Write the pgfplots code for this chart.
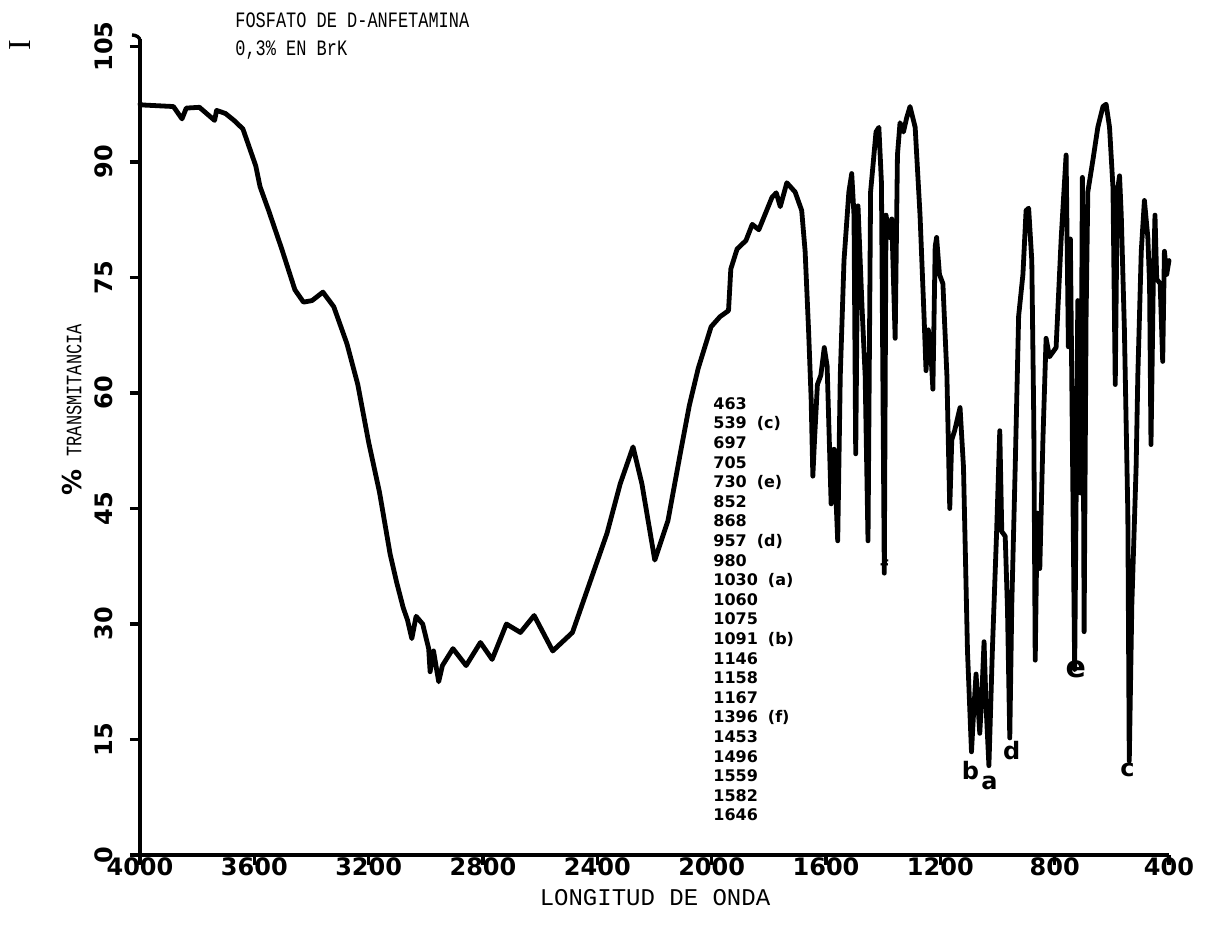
\documentclass[border=0pt]{standalone}
\usepackage{fontspec}
\usepackage{pgfplots}
\usepackage{pgfplotstable}
\pgfplotsset{compat=1.18}
\newfontfamily\mono{Liberation Mono}
\newfontfamily\monon{Liberation Mono}[FakeStretch=0.77]
\newfontfamily\tkfont{DejaVu Sans}
\newfontfamily\serifI{Liberation Serif}

% IR spectrum (wavenumber, %T)
\pgfplotstableread{
w T
4000 97.5
3989 97.4
3883 97.2
3853 95.6
3838 97.0
3792 97.1
3739 95.4
3732 96.7
3701 96.3
3671 95.4
3640 94.3
3625 92.7
3595 89.5
3580 86.8
3549 83.6
3504 78.7
3458 73.4
3428 71.8
3398 72.0
3360 73.1
3322 71.2
3276 66.4
3238 61.1
3200 53.6
3162 47.1
3125 39.1
3102 35.4
3079 32.1
3064 30.5
3049 28.1
3034 31.0
3011 30.0
2990 26.8
2985 23.8
2973 26.5
2955 22.5
2942 24.6
2905 26.8
2859 24.6
2809 27.6
2768 25.4
2718 30.0
2669 28.9
2621 31.1
2556 26.5
2487 28.9
2442 33.7
2366 41.8
2320 48.2
2275 53.0
2244 48.2
2199 38.3
2153 43.4
2108 52.5
2078 58.4
2047 63.2
2002 68.6
1971 69.9
1941 70.7
1933 76.1
1911 78.7
1880 79.8
1858 81.9
1835 81.2
1789 85.4
1774 86.0
1760 84.2
1737 87.3
1708 86.1
1685 83.7
1673 78.4
1661 68.2
1652 59.3
1646 49.2
1640 54.0
1630 61.1
1618 62.3
1606 65.9
1596 63.5
1582 45.6
1572 52.7
1559 40.8
1550 62.3
1537 77.2
1520 86.1
1510 88.5
1502 83.1
1496 52.1
1488 84.3
1474 71.2
1463 62.3
1453 40.8
1444 86.1
1425 93.9
1415 94.5
1406 87.3
1396 36.6
1390 83.1
1378 80.2
1370 82.6
1358 67.1
1350 90.9
1341 95.1
1329 93.9
1318 95.7
1306 97.2
1288 94.5
1271 83.1
1257 70.0
1250 62.9
1242 68.2
1234 65.9
1226 60.5
1218 79.0
1213 80.2
1203 75.4
1191 74.2
1177 62.3
1167 45.0
1160 53.9
1150 55.1
1131 58.1
1119 50.4
1105 26.5
1091 13.4
1084 18.2
1075 23.5
1062 15.8
1055 20.6
1047 27.7
1040 19.4
1030 11.6
1018 26.5
1003 42.0
992 55.1
985 42.0
973 41.4
965 31.9
957 15.2
950 32.5
938 50.4
926 70.0
911 75.4
900 83.7
891 84.0
880 77.2
873 56.3
868 25.3
861 44.4
852 37.2
841 54.0
830 67.1
818 64.7
795 65.9
777 80.2
760 90.9
752 66.0
745 80.0
730 24.1
719 72.0
709 47.0
703 88.0
697 29.0
690 70.0
684 86.1
666 90.3
649 94.5
631 97.2
620 97.5
608 94.5
596 86.7
588 61.1
581 86.1
573 88.2
567 83.1
556 68.2
544 44.4
539 12.2
530 32.5
515 50.4
509 62.3
497 78.4
486 85.0
474 80.2
468 74.2
463 53.3
455 74.2
449 83.1
443 74.8
431 74.2
422 64.1
416 78.4
408 75.4
400 77.2
}\spectrum

\begin{document}
\begin{tikzpicture}
\begin{axis}[
  at={(0pt,0pt)}, anchor=south west,
  scale only axis, width=514.5pt, height=408.1pt,
  x dir=reverse, xmin=400, xmax=4000, ymin=0, ymax=106,
  axis x line=bottom, axis y line=left,
  axis line style={-, line width=1.7pt},
  xtick={400,800,...,4000}, ytick={0,15,...,105},
  tick align=outside, major tick length=5pt,
  tick style={line width=1.7pt, black},
  /pgf/number format/assume math mode=true,
  /pgf/number format/1000 sep={},
  ticklabel style={font=\tkfont\bfseries\fontsize{12}{12}\selectfont},
  xticklabel style={yshift=5pt, inner sep=1pt},
  yticklabel style={xshift=-5pt, rotate=90, anchor=south},
  clip=false,
]
\addplot[line width=2.4pt, line join=round, line cap=round] table[x=w, y=T] {\spectrum};

% band letters
\node[font=\tkfont\bfseries\fontsize{12}{12}\selectfont] at (axis cs:1095,11) {b};
\node[font=\tkfont\bfseries\fontsize{12}{12}\selectfont] at (axis cs:1028,9.3) {a};
\node[font=\tkfont\bfseries\fontsize{12}{12}\selectfont] at (axis cs:950,13.6) {d};
\node[font=\tkfont\bfseries\fontsize{12}{12}\selectfont] at (axis cs:545,11) {c};
\node[font=\tkfont\bfseries\fontsize{15}{15}\selectfont] at (axis cs:726,24.1) {e};
\node[font=\tkfont\bfseries\fontsize{9}{9}\selectfont] at (axis cs:1396,37.5) {f};
\end{axis}

% axis top hook
\draw[line width=1.7pt] (0pt,407pt) to[out=90,in=0] (-4pt,410pt);

\node[font=\monon\fontsize{11}{14}\selectfont, anchor=west, align=left, inner sep=0pt]
  at (47.5pt,409.5pt) {FOSFATO DE D-ANFETAMINA\\0,3\% EN BrK};
\node[font=\serifI\fontsize{16}{16}\selectfont, rotate=90] at (-60pt,405pt) {I};

\node[rotate=90, font=\monon\fontsize{11}{11}\selectfont] at (-34pt,222.5pt)
  {{\tkfont\bfseries\fontsize{13}{13}\selectfont\%}\hspace{0.6em}TRANSMITANCIA};
\node[font=\mono\fontsize{12}{12}\selectfont, inner sep=0pt] at (257.5pt,-21.5pt) {LONGITUD DE ONDA};

\node[font=\tkfont\bfseries\fontsize{8}{9.8}\selectfont, anchor=north west, align=left, inner sep=0pt]
  at (286.5pt,229pt) {%
  463\\
  539\hspace{5pt}(c)\\
  697\\
  705\\
  730\hspace{5pt}(e)\\
  852\\
  868\\
  957\hspace{5pt}(d)\\
  980\\
  1030\hspace{5pt}(a)\\
  1060\\
  1075\\
  1091\hspace{5pt}(b)\\
  1146\\
  1158\\
  1167\\
  1396\hspace{5pt}(f)\\
  1453\\
  1496\\
  1559\\
  1582\\
  1646};

\pgfresetboundingbox
\path[use as bounding box] (-70pt,-35pt) rectangle (536.5pt,427.5pt);
\end{tikzpicture}
\end{document}
